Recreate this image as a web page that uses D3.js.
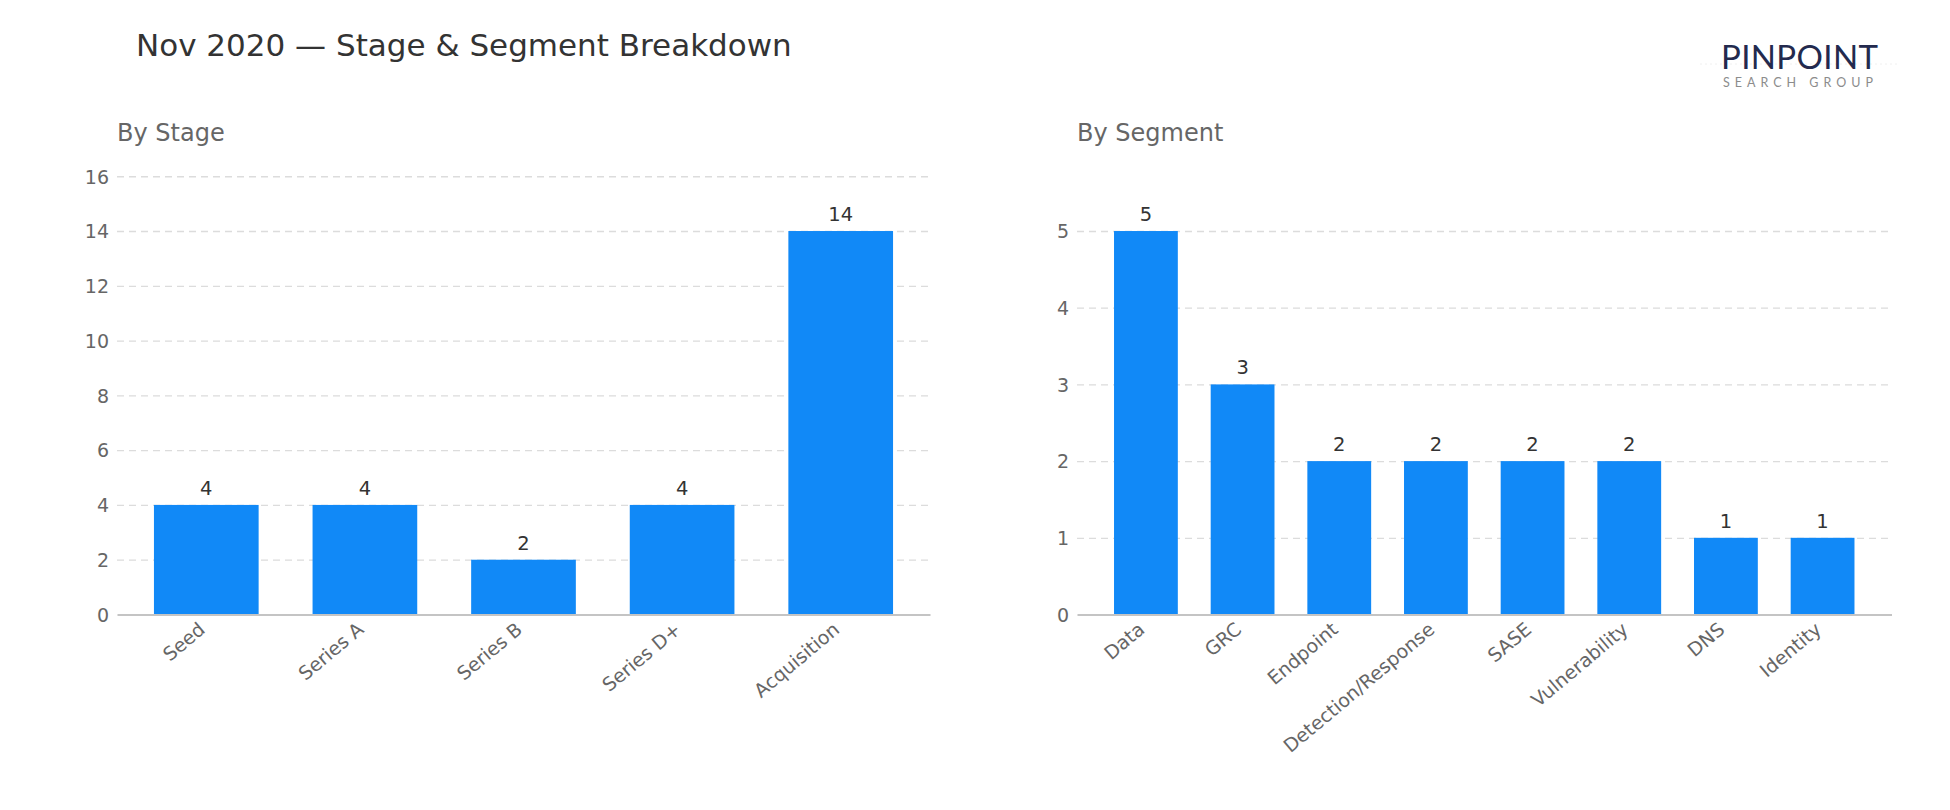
<!DOCTYPE html>
<head>
<meta charset="utf-8">
<script src="https://d3js.org/d3.v7.min.js"></script>
<style>
body {
	margin: 0;
	background: #fff;
}
svg text {
	font-family: "DejaVu Sans", sans-serif;
}
.grid line {
	stroke: #dcdcdc;
	stroke-width: 1.3px;
	stroke-dasharray: 7,5;
}
.grid path {
	display: none;
}
.y-axis path {
	display: none;
}
.y-axis text, .x-axis text {
	fill: #666;
	font-size: 19px;
}
.x-axis path {
	stroke: #c4c4c4;
	stroke-width: 2px;
}
.bar {
	fill: #1189f7;
}
.value {
	fill: #333;
	font-size: 19.5px;
}
.subtitle {
	fill: #666;
	font-size: 24px;
}
</style>
</head>
<body>
<svg id="chart" width="1950" height="810"></svg>

<script>

var stageCats = ["Seed", "Series A", "Series B", "Series D+", "Acquisition"];
var stageVals = [4, 4, 2, 4, 14];
var stageTicks = [0, 2, 4, 6, 8, 10, 12, 14, 16];

var segmentCats = ["Data", "GRC", "Endpoint", "Detection/Response", "SASE", "Vulnerability", "DNS", "Identity"];
var segmentVals = [5, 3, 2, 2, 2, 2, 1, 1];
var segmentTicks = [0, 1, 2, 3, 4, 5];

var svg = d3.select("#chart");

var top0 = 173.5, bottom0 = 614.5;

svg.append("text")
	.attr("x", 136)
	.attr("y", 56)
	.style("font-size", "31px")
	.style("fill", "#333")
	.text("Nov 2020 \u2014 Stage & Segment Breakdown");

// logo
var logo = svg.append("g");
logo.append("line")
	.attr("x1", 1700).attr("x2", 1900)
	.attr("y1", 64).attr("y2", 64)
	.style("stroke", "#f0f0f0")
	.style("stroke-dasharray", "2,3");
logo.append("text")
	.attr("x", 1721)
	.attr("y", 69)
	.attr("textLength", 157)
	.attr("lengthAdjust", "spacing")
	.style("font-family", "Lato, 'Noto Sans', sans-serif")
	.style("font-size", "33px")
	.style("fill", "#232a4e")
	.text("PINPOINT");
logo.append("text")
	.attr("x", 1723)
	.attr("y", 87)
	.attr("textLength", 150)
	.attr("lengthAdjust", "spacing")
	.style("font-family", "Lato, 'Noto Sans', sans-serif")
	.style("font-size", "12.5px")
	.style("fill", "#8c8c8c")
	.text("SEARCH GROUP");

drawPanel(stageCats, stageVals, stageTicks, 16.1, 117, 930, "By Stage");
drawPanel(segmentCats, segmentVals, segmentTicks, 5.75, 1077, 1891.5, "By Segment");

function drawPanel(cats, vals, ticks, yMax, x0, x1, title) {

	var n = cats.length;

	var x = d3.scaleBand()
		.domain(cats)
		.range([x0, x1])
		.paddingInner(0.34)
		.paddingOuter(0.05 * (n - 0.34));

	var y = d3.scaleLinear()
		.domain([0, yMax])
		.range([bottom0, top0]);

	svg.append("text")
		.attr("class", "subtitle")
		.attr("x", x0)
		.attr("y", 141)
		.text(title);

	svg.append("g")
		.attr("class", "grid")
		.attr("transform", "translate(" + x0 + ",0)")
		.call(d3.axisLeft(y).tickValues(ticks.slice(1)).tickSize(-(x1 - x0)).tickFormat(""));

	svg.append("g")
		.attr("class", "y-axis")
		.attr("transform", "translate(" + x0 + ",0)")
		.call(d3.axisLeft(y).tickValues(ticks).tickSize(0).tickPadding(8).tickFormat(d3.format("d")))
		.selectAll("text")
		.attr("dy", "0.36em");

	svg.append("g")
		.selectAll("rect")
		.data(vals)
		.join("rect")
		.attr("class", "bar")
		.attr("x", (d, i) => x(cats[i]))
		.attr("width", x.bandwidth())
		.attr("y", d => y(d))
		.attr("height", d => y(0) - y(d));

	svg.append("g")
		.selectAll("text")
		.data(vals)
		.join("text")
		.attr("class", "value")
		.attr("text-anchor", "middle")
		.attr("x", (d, i) => x(cats[i]) + x.bandwidth() / 2)
		.attr("y", d => y(d) - 10)
		.text(d => d);

	svg.append("g")
		.attr("class", "x-axis")
		.attr("transform", "translate(0," + bottom0 + ")")
		.call(d3.axisBottom(x).tickSize(0).tickSizeOuter(0))
		.selectAll("text")
		.attr("x", 0)
		.attr("y", 0)
		.attr("dy", 0)
		.attr("text-anchor", "end")
		.attr("transform", "translate(0,17) rotate(-40)");
}

</script>
</body>
